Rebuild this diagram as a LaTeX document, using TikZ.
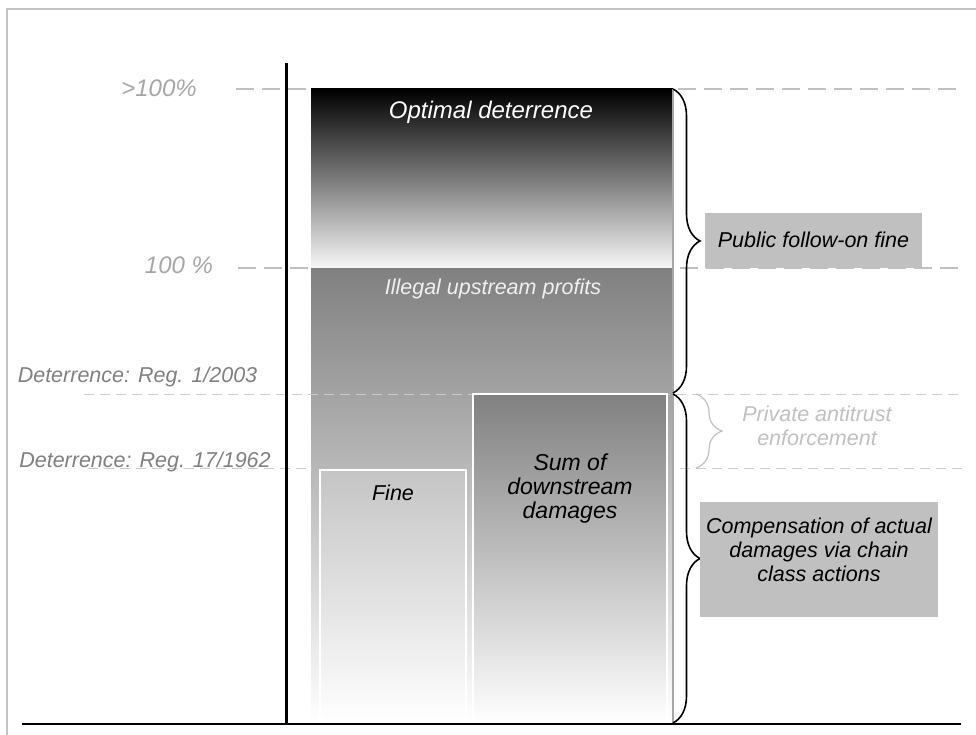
\documentclass[tikz,border=0pt]{standalone}
\usepackage{fontspec}
\setmainfont{Liberation Sans}
\usetikzlibrary{decorations.pathreplacing}
\definecolor{framegray}{HTML}{C4C4C4}
\definecolor{dashgray}{HTML}{C0C0C0}
\definecolor{lightdash}{HTML}{CCCCCC}
\definecolor{pctgray}{HTML}{A6A6A6}
\definecolor{reggray}{HTML}{808080}
\definecolor{boxgray}{HTML}{C0C0C0}
\definecolor{midgray}{HTML}{808080}
\definecolor{privgray}{HTML}{C0C0C0}
\begin{document}
\begin{tikzpicture}[x=1pt,y=-1pt,
  lab/.style={inner sep=0pt, font=\fontsize{21.5}{24}\selectfont\itshape, align=center},
  biglab/.style={lab, font=\fontsize{24}{26}\selectfont\itshape},
  sumlab/.style={lab, font=\fontsize{23}{24}\selectfont\itshape},
  bigdash/.style={draw=dashgray, line width=2pt, dash pattern=on 18pt off 8pt},
  smalldash/.style={draw=lightdash, line width=1pt, dash pattern=on 10pt off 6pt},
  bracestyle/.style={decorate, decoration={brace, amplitude=27pt}, line width=1.6pt},
  greybox/.style={fill=boxgray, inner sep=0pt}
]
\useasboundingbox (0,0) rectangle (976,735);
% frame
\draw[framegray, line width=2pt] (7,735) -- (7,9) -- (976,9);
% dashed reference lines (behind the bar)
\coordinate (d1a) at (236,89);   \coordinate (d1b) at (962,89);
\coordinate (d2a) at (238,268);  \coordinate (d2b) at (962,268);
\coordinate (d4a) at (88,468);   \coordinate (d4b) at (962,468);
\draw[bigdash] (d1a) -- (d1b);
\draw[bigdash] (d2a) -- (d2b);
\draw[smalldash] (d4a) -- (d4b);
% main bar
\shade[top color=black, bottom color=white!97!black, middle color=black!52] (311,89) rectangle (673,268);
\shade[top color=midgray, bottom color=white] (311,268) rectangle (673,723);
\draw[gray!70, line width=1.2pt] (673,89) -- (673,723);
% Reg 1/2003 dashed line (over the bar)
\coordinate (d3a) at (84,394);   \coordinate (d3b) at (962,394);
\draw[smalldash] (d3a) -- (d3b);
% inner boxes
\shadedraw[top color=black!23, bottom color=white, draw=white, line width=1.6pt] (320,470) rectangle (466,723);
\shadedraw[top color=midgray, bottom color=white, draw=white, line width=1.6pt] (473,394) rectangle (667,723);
% axes
\draw[black, line width=2pt] (22,724) -- (961,724);
\draw[black, line width=3pt] (286.5,63) -- (286.5,725);
% labels left
\node[biglab, text=pctgray] (gt100) at (159,88) {>100\%};
\node[biglab, text=pctgray] (p100) at (179,265) {100 \%};
\node[lab, text=reggray] (reg1) at (137.5,377) {Deterrence: Reg. 1/2003};
\node[lab, text=reggray] (reg17) at (145,462) {Deterrence: Reg. 17/1962};
% labels in bar
\node[biglab, text=white] (optd) at (491,112) {Optimal deterrence};
\node[lab, text=white!94!black] (illegal) at (493,289) {Illegal upstream profits};
\node[lab] (fine) at (393,493) {Fine};
\node[sumlab] (sumd) at (570,489) {Sum of\\downstream\\damages};
% braces
\coordinate (b1t) at (673,89);  \coordinate (b1b) at (673,393);
\coordinate (b2t) at (673,394); \coordinate (b2b) at (673,723);
\coordinate (b3t) at (696,394); \coordinate (b3b) at (696,468);
\draw[bracestyle] (b1t) -- (b1b);
\draw[bracestyle] (b2t) -- (b2b);
\draw[decorate, decoration={brace, amplitude=26pt}, line width=1.2pt, privgray] (b3t) -- (b3b);
% right boxes
\node[greybox, minimum width=217pt, minimum height=55pt] (pubbox) at (813.5,240.5) {};
\node[lab] (pubtext) at (813.5,240) {Public follow-on fine};
\node[lab, text=privgray] (priv) at (817,426) {Private antitrust\\enforcement};
\node[greybox, minimum width=238pt, minimum height=115pt] (compbox) at (819,559.5) {};
\node[lab] (comptext) at (819,550) {Compensation of actual\\damages via chain\\class actions};
\end{tikzpicture}
\end{document}
